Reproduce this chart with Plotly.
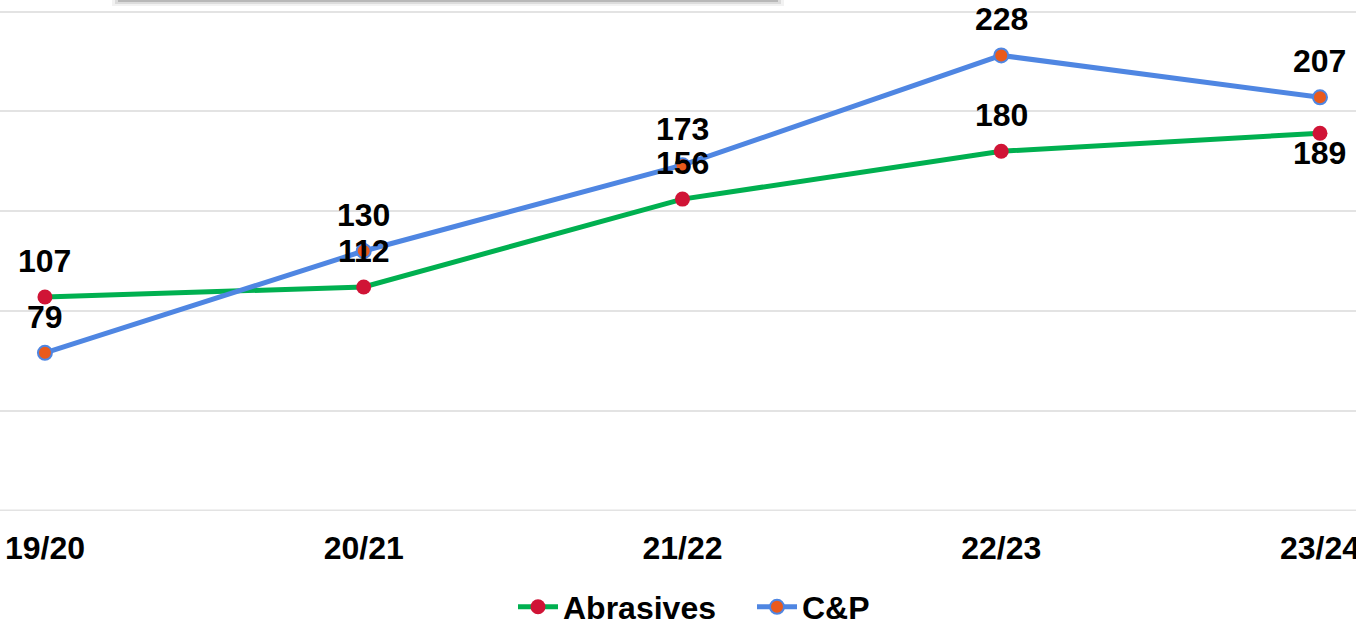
import plotly.graph_objects as go

seasons = ["19/20", "20/21", "21/22", "22/23", "23/24"]
abrasives = [107, 112, 156, 180, 189]
cp = [79, 130, 173, 228, 207]

# where each value label sits relative to its point
abrasives_label_side = ["above", "above", "above", "above", "below"]
cp_label_side = ["above", "above", "above", "above", "above"]

FONT = "Liberation Sans, Arial, sans-serif"
W, H = 1356, 621
PLOT_BOTTOM = 110
GRID = "#e3e3e3"

fig = go.Figure()
fig.add_trace(go.Scatter(
    x=seasons, y=abrasives, name="Abrasives", mode="lines+markers",
    line=dict(color="#00b050", width=5),
    marker=dict(color="#d01436", size=15, line=dict(width=0)),
))
fig.add_trace(go.Scatter(
    x=seasons, y=cp, name="C&P", mode="lines+markers",
    line=dict(color="#4f86e2", width=5),
    marker=dict(color="#ea5a1c", size=14, line=dict(color="#4f86e2", width=2)),
))

shift = {"above": 36, "below": -20}
for vals, sides in [(abrasives, abrasives_label_side), (cp, cp_label_side)]:
    for s, v, side in zip(seasons, vals, sides):
        fig.add_annotation(
            x=s, y=v, text=f"<b>{v}</b>", showarrow=False, yshift=shift[side],
            font=dict(family=FONT, size=32, color="#000000"),
        )

# baseline gridline (plotly drops the one on the plot edge)
fig.add_shape(type="line", xref="paper", yref="y", x0=0, x1=1, y0=0, y1=0,
              line=dict(color=GRID, width=2), layer="below")

# soft shadow of a panel sitting just above the chart
plot_h = H - PLOT_BOTTOM
for x0, x1, depth, alpha in [(112, 784, 6, 0.05), (115, 781, 4, 0.09), (118, 778, 2, 0.16)]:
    fig.add_shape(type="rect", xref="paper", yref="paper",
                  x0=x0 / W, x1=x1 / W, y0=1 - depth / plot_h, y1=1.05,
                  fillcolor=f"rgba(0,0,0,{alpha})", line=dict(width=0), layer="above")

fig.update_layout(
    width=W, height=H,
    margin=dict(l=0, r=0, t=0, b=PLOT_BOTTOM, autoexpand=False),
    paper_bgcolor="#ffffff", plot_bgcolor="#ffffff",
    font=dict(family=FONT, size=32, color="#000000"),
    showlegend=True,
    legend=dict(orientation="h", x=513 / W, xanchor="left", y=-(607 - plot_h) / plot_h,
                yanchor="middle",
                font=dict(family=FONT, size=32, color="#000000", weight="bold"),
                itemwidth=40, tracegroupgap=0, entrywidth=184),
)
fig.update_xaxes(
    type="category", range=[-0.141, 4.113], showgrid=False, zeroline=False,
    showline=False, ticks="", ticklabelstandoff=15,
    tickfont=dict(family=FONT, size=32, color="#000000", weight="bold"),
)
fig.update_yaxes(
    range=[-0.25, 255.76], dtick=50, showgrid=True, gridcolor=GRID, gridwidth=2,
    zeroline=False, showticklabels=False, showline=False,
)

fig.write_html("out.html", config={"displayModeBar": False},
               post_script="document.body.style.margin='0';")
